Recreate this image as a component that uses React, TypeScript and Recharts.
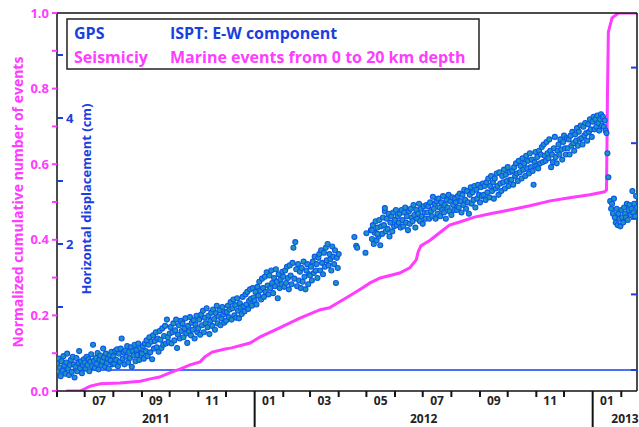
import React from 'react';
import { ComposedChart, Line, Scatter, XAxis, YAxis, ReferenceLine } from 'recharts';

const MAGENTA = '#ff3cff';
const BLUE = '#1a3fe0';
const DOT_FILL = '#1f95b5';
const DOT_STROKE = '#0a55ee';
const FONT = '"Open Sans", "DejaVu Sans", sans-serif';

// x axis = days since 2011-06-01
const X_MAX = 628;
const monthStarts = [0, 30, 61, 92, 122, 153, 183, 214, 245, 274, 305, 335, 366, 396, 427, 458, 488, 519, 549, 580, 611];
const monthLabels = ['', '07', '', '09', '', '11', '', '01', '', '03', '', '05', '', '07', '', '09', '', '11', '', '01', ''];
const yearStarts = [0, 214, 580];
const yearMids = [107, 397, 615];
const yearLabels = ['2011', '2012', '2013'];

// seismicity (normalized cumulative number of events)
const seisDays = [10, 25, 36, 47, 68, 90, 101, 111, 122, 133, 144, 155, 160, 168, 182, 189, 209, 220, 241, 263, 285, 295, 306, 317, 331, 339, 350, 371, 382, 389, 391, 394, 404, 415, 425, 436, 452, 469, 490, 512, 534, 555, 577, 593, 595, 596, 597, 601, 608, 628];
const seisFrac = [0, 0, 0.013, 0.019, 0.021, 0.026, 0.032, 0.037, 0.048, 0.058, 0.069, 0.077, 0.09, 0.103, 0.111, 0.114, 0.127, 0.143, 0.167, 0.193, 0.215, 0.22, 0.236, 0.252, 0.273, 0.286, 0.299, 0.312, 0.326, 0.347, 0.368, 0.384, 0.399, 0.42, 0.439, 0.447, 0.46, 0.469, 0.479, 0.49, 0.503, 0.511, 0.519, 0.527, 0.532, 0.78, 0.95, 0.987, 1.0, 1.0];

// GPS ISPT E-W displacement (cm), daily runs
const gpsJun11 = [0.10, -0.02, 0.18, 0.04, -0.10, 0.14, -0.01, 0.22, 0.07, -0.06, 0.12, 0.26, 0.02, -0.08, 0.08, 0.16, -0.03, 0.21, 0.09, -0.12, 0.05, 0.19, -0.02, 0.11, 0.30, 0.03, 0.14, -0.05, 0.08, 0.17];
const gpsJul11 = [0.12, 0.02, 0.21, 0.08, 0.17, -0.02, 0.13, 0.25, 0.06, 0.40, 0.15, 0.03, 0.19, 0.10, 0.27, 0.01, 0.16, 0.23, 0.07, 0.14, 0.34, 0.20, 0.05, 0.26, 0.11, 0.18, 0.02, 0.24, 0.15, 0.29, 0.09];
const gpsAug11 = [0.22, 0.10, 0.30, 0.16, 0.33, 0.06, 0.26, 0.13, 0.34, 0.50, 0.18, 0.28, 0.09, 0.31, 0.21, 0.38, 0.12, 0.29, 0.19, 0.36, 0.05, 0.30, 0.23, 0.40, 0.14, 0.32, 0.24, 0.42, 0.16, 0.35, 0.26];
const gpsSep11 = [0.26, 0.38, 0.18, 0.42, 0.30, 0.47, 0.22, 0.40, 0.52, 0.28, 0.45, 0.17, 0.55, 0.34, 0.46, 0.60, 0.36, 0.50, 0.29, 0.62, 0.48, 0.35, 0.66, 0.40, 0.54, 0.70, 0.42, 0.80, 0.52, 0.44];
const gpsOct11 = [0.58, 0.68, 0.42, 0.60, 0.74, 0.47, 0.63, 0.80, 0.35, 0.56, 0.71, 0.50, 0.78, 0.62, 0.74, 0.52, 0.66, 0.82, 0.58, 0.43, 0.70, 0.61, 0.84, 0.55, 0.75, 0.64, 0.79, 0.50, 0.72, 0.86, 0.60];
const gpsNov11 = [0.66, 0.80, 0.56, 0.88, 0.71, 0.94, 0.60, 0.83, 0.74, 0.98, 0.68, 0.86, 0.57, 0.78, 0.91, 0.70, 0.96, 0.81, 0.64, 0.90, 1.02, 0.74, 0.85, 0.95, 0.71, 0.82, 1.00, 0.88, 0.75, 0.92];
const gpsDec11 = [0.78, 0.92, 1.02, 0.84, 0.96, 1.08, 0.80, 0.98, 1.12, 0.87, 1.03, 0.83, 1.14, 0.94, 0.82, 1.06, 0.99, 0.89, 1.16, 1.01, 0.93, 1.20, 1.04, 1.24, 0.97, 1.10, 1.28, 1.13, 1.02, 1.30, 1.15];
const gpsJan12 = [1.10, 1.24, 1.04, 1.32, 1.18, 1.40, 1.26, 1.12, 1.45, 1.30, 1.16, 1.48, 1.24, 1.55, 1.34, 1.20, 1.50, 1.30, 1.58, 1.38, 1.22, 1.46, 1.33, 1.60, 1.40, 1.14, 1.52, 1.30, 1.44, 1.36, 1.56];
const gpsFeb12 = [1.48, 1.32, 1.58, 1.38, 1.64, 1.46, 1.28, 1.66, 1.50, 1.36, 1.70, 1.94, 1.45, 2.03, 1.60, 1.33, 1.68, 1.42, 1.56, 1.30, 1.62, 1.40, 1.72, 1.48, 1.28, 1.58, 1.68, 1.36, 1.52];
const gpsMar12 = [1.50, 1.64, 1.42, 1.72, 1.54, 1.80, 1.58, 1.68, 1.46, 1.78, 1.84, 1.58, 1.90, 1.70, 1.52, 1.86, 1.64, 1.94, 1.74, 2.00, 1.66, 1.84, 1.76, 1.58, 1.96, 1.80, 1.68, 1.90, 1.38, 1.78, 1.62, 1.84];
const gpsSparseDays = [322, 324, 325, 334, 335, 341, 347, 355];
const gpsSparseCm = [2.11, 1.97, 1.94, 1.86, 2.17, 2.22, 2.16, 2.57];
const gpsMay12 = [2.22, 2.08, 2.30, 2.00, 2.18, 2.36, 2.06, 2.26, 2.12, 2.38, 1.98, 2.28, 2.16, 2.42, 2.30, 2.52, 2.20, 2.40, 2.24, 2.48, 2.12, 2.34, 2.44, 2.20, 2.50, 2.28, 2.38, 2.54, 2.30, 2.44];
const gpsJun12 = [2.34, 2.48, 2.26, 2.54, 2.38, 2.28, 2.50, 2.58, 2.34, 2.44, 2.22, 2.52, 2.32, 2.56, 2.42, 2.36, 2.62, 2.46, 2.26, 2.54, 2.40, 2.48, 2.64, 2.36, 2.56, 2.44, 2.32, 2.60, 2.50, 2.40, 2.62];
const gpsJul12 = [2.50, 2.60, 2.40, 2.66, 2.52, 2.44, 2.75, 2.56, 2.64, 2.40, 2.68, 2.48, 2.72, 2.58, 2.44, 2.66, 2.54, 2.76, 2.50, 2.62, 2.40, 2.70, 2.58, 2.78, 2.52, 2.68, 2.46, 2.74, 2.62, 2.54, 2.72];
const gpsAug12 = [2.66, 2.54, 2.76, 2.58, 2.80, 2.68, 2.50, 2.78, 2.62, 2.86, 2.70, 2.56, 2.84, 2.66, 2.48, 2.78, 2.90, 2.64, 2.82, 2.70, 2.92, 2.58, 2.86, 2.72, 2.94, 2.78, 2.66, 2.90, 2.76, 2.96];
const gpsSep12 = [2.78, 2.92, 2.70, 2.98, 2.82, 3.04, 2.74, 2.92, 3.08, 2.84, 2.98, 2.72, 3.04, 2.88, 3.12, 2.92, 2.78, 3.14, 2.96, 2.84, 3.08, 2.98, 3.18, 2.88, 3.10, 3.00, 3.22, 2.92, 3.14, 3.02];
const gpsOct12 = [3.02, 3.16, 2.94, 3.22, 3.08, 3.28, 3.12, 3.00, 3.32, 3.14, 3.24, 3.04, 3.36, 3.18, 3.28, 3.08, 3.40, 3.20, 3.32, 3.12, 3.44, 3.22, 3.34, 3.16, 2.94, 3.30, 3.46, 3.24, 3.38, 3.20, 3.48];
const gpsNov12 = [3.28, 3.42, 3.54, 3.30, 3.58, 3.40, 3.32, 3.62, 3.44, 3.36, 3.66, 3.48, 3.22, 3.42, 3.30, 3.52, 3.70, 3.38, 3.28, 3.48, 3.58, 3.42, 3.66, 3.50, 3.34, 3.62, 3.72, 3.52, 3.42, 3.68];
const gpsDec12 = [3.52, 3.66, 3.42, 3.72, 3.56, 3.78, 3.60, 3.48, 3.74, 3.64, 3.84, 3.56, 3.78, 3.66, 3.88, 3.68, 3.58, 3.86, 3.72, 3.92, 3.76, 3.64, 3.90, 3.78, 3.98, 3.82, 3.70, 3.94, 4.02, 3.82, 3.98, 3.86, 4.04, 3.92, 3.80, 3.98, 4.06, 3.88, 4.02, 3.86, 3.96, 3.80, 3.76];
const gpsQuakeDays = [596, 597];
const gpsQuakeCm = [3.44, 3.06];
const gpsFeb13 = [2.68, 2.56, 2.64, 2.48, 2.72, 2.42, 2.34, 2.56, 2.30, 2.48, 2.40, 2.28, 2.54, 2.42, 2.34, 2.58, 2.48, 2.42, 2.64, 2.38, 2.54, 2.62, 2.46, 2.56, 2.84, 2.50, 2.64, 2.44, 2.76, 2.58];

const gpsRuns: [number, number[]][] = [
  [0, gpsJun11], [30, gpsJul11], [61, gpsAug11], [92, gpsSep11], [122, gpsOct11],
  [153, gpsNov11], [183, gpsDec11], [214, gpsJan12], [245, gpsFeb12], [274, gpsMar12],
  [340, gpsMay12], [370, gpsJun12], [401, gpsJul12], [432, gpsAug12], [462, gpsSep12],
  [492, gpsOct12], [523, gpsNov12], [553, gpsDec12], [599, gpsFeb13],
];

const gpsData = [
  ...gpsRuns.flatMap(([start, vals]) => vals.map((cm, i) => ({ day: start + i, cm }))),
  ...gpsSparseDays.map((day, i) => ({ day, cm: gpsSparseCm[i] })),
  ...gpsQuakeDays.map((day, i) => ({ day, cm: gpsQuakeCm[i] })),
];
const seisData = seisDays.map((day, i) => ({ day, frac: seisFrac[i] }));

const seisTicks = [0, 0.1, 0.2, 0.3, 0.4, 0.5, 0.6, 0.7, 0.8, 0.9, 1.0];
const gpsTicks = [1, 2, 3, 4, 5];
const rightTicks = [0, 1.2, 2.4, 3.6, 4.8];

const PLOT_W = 580;
const PPD = PLOT_W / X_MAX;

const MonthTick = (props: any) => {
  const { x, y, payload } = props;
  const v = payload.value;
  const i = monthStarts.indexOf(v);
  const next = i < monthStarts.length - 1 ? monthStarts[i + 1] : v + 28;
  const yi = yearStarts.indexOf(v);
  const long = yi > 0;
  return (
    <g>
      <line x1={x} y1={y} x2={x} y2={y + (long ? 36 : 6)} stroke="#111" strokeWidth={2} />
      {monthLabels[i] && (
        <text x={x + ((next - v) / 2) * PPD} y={y + 14} textAnchor="middle" fontSize={12} fontWeight={700} fill="#222" fontFamily={FONT}>
          {monthLabels[i]}
        </text>
      )}
      {yi >= 0 && (
        <text x={x + (yearMids[yi] - v) * PPD} y={y + 32} textAnchor="middle" fontSize={12} fontWeight={700} fill="#222" fontFamily={FONT}>
          {yearLabels[yi]}
        </text>
      )}
    </g>
  );
};

const SeisTick = (props: any) => {
  const { x, y, payload } = props;
  if (Math.round(payload.value * 10) % 2 !== 0) return <g />;
  return (
    <text x={x} y={y} dy="0.35em" textAnchor="end" fontSize={13} fontWeight={700} fill={MAGENTA} fontFamily={FONT}>
      {payload.value.toFixed(1)}
    </text>
  );
};

const GpsTick = (props: any) => {
  const { x, y, payload } = props;
  if (payload.value % 2 !== 0) return <g />;
  return (
    <text x={x} y={y} dy="0.35em" textAnchor="start" fontSize={13} fontWeight={700} fill={BLUE} fontFamily={FONT}>
      {payload.value}
    </text>
  );
};

const GpsDot = (props: any) => (
  <circle cx={props.cx} cy={props.cy} r={2.5} fill={DOT_FILL} stroke={DOT_STROKE} strokeWidth={1.1} />
);

export default function App() {
  return (
    <div style={{ position: 'absolute', left: 0, top: 0, width: 639, height: 427, background: '#fff' }}>
      <ComposedChart width={639} height={427} margin={{ top: 13, right: 2, bottom: 0, left: 0 }}>
        <XAxis dataKey="day" type="number" domain={[0, X_MAX]} ticks={monthStarts} interval={0}
          tick={MonthTick} tickLine={false} tickSize={0} tickMargin={0} height={36}
          axisLine={{ stroke: '#111', strokeWidth: 1.5 }} allowDataOverflow />
        <YAxis yAxisId="seis" orientation="left" width={57} domain={[0, 1]} ticks={seisTicks} interval={0}
          tick={SeisTick} tickSize={5} tickMargin={3} tickLine={{ stroke: MAGENTA, strokeWidth: 2 }}
          axisLine={{ stroke: '#111', strokeWidth: 1.5 }} allowDataOverflow />
        <YAxis yAxisId="gps" orientation="left" mirror width={30} domain={[-1 / 3, 17 / 3]} ticks={gpsTicks} interval={0}
          tick={GpsTick} tickSize={6} tickMargin={3} tickLine={{ stroke: BLUE, strokeWidth: 2 }}
          axisLine={false} allowDataOverflow />
        <YAxis yAxisId="right" orientation="right" mirror width={10} domain={[-1 / 3, 17 / 3]} ticks={rightTicks} interval={0}
          tick={() => <g />} tickSize={6} tickLine={{ stroke: BLUE, strokeWidth: 2 }}
          axisLine={{ stroke: '#111', strokeWidth: 1.5 }} allowDataOverflow />
        <ReferenceLine yAxisId="gps" y={0} stroke="#1040f0" strokeWidth={1.3} />
        <Line yAxisId="seis" data={seisData} dataKey="frac" type="linear" stroke={MAGENTA} strokeWidth={3}
          dot={false} activeDot={false} isAnimationActive={false} />
        <Scatter yAxisId="gps" data={gpsData} dataKey="cm" shape={GpsDot} isAnimationActive={false} />
        <ReferenceLine yAxisId="seis" y={1} stroke="#111" strokeWidth={1.5} />
      </ComposedChart>
      <svg width={639} height={427} style={{ position: 'absolute', left: 0, top: 0, pointerEvents: 'none' }} fontFamily={FONT} fontWeight={700}>
        <text x={18} y={202} transform="rotate(-90 18 202)" textAnchor="middle" dy="0.35em" fontSize={14} fill={MAGENTA}>
          Normalized cumulative number of events
        </text>
        <text x={86} y={199} transform="rotate(-90 86 199)" textAnchor="middle" dy="0.35em" fontSize={13} fill={BLUE}>
          Horizontal displacement (cm)
        </text>
        <rect x={67} y={19} width={412} height={50} fill="#fff" stroke="#222" strokeWidth={1.5} />
        <text x={74} y={39} fontSize={16} fill={BLUE}>GPS</text>
        <text x={170} y={39} fontSize={16} fill={BLUE}>ISPT: E-W component</text>
        <text x={74} y={63} fontSize={16} fill={MAGENTA}>Seismiciy</text>
        <text x={170} y={63} fontSize={16} fill={MAGENTA}>Marine events from 0 to 20 km depth</text>
      </svg>
    </div>
  );
}
